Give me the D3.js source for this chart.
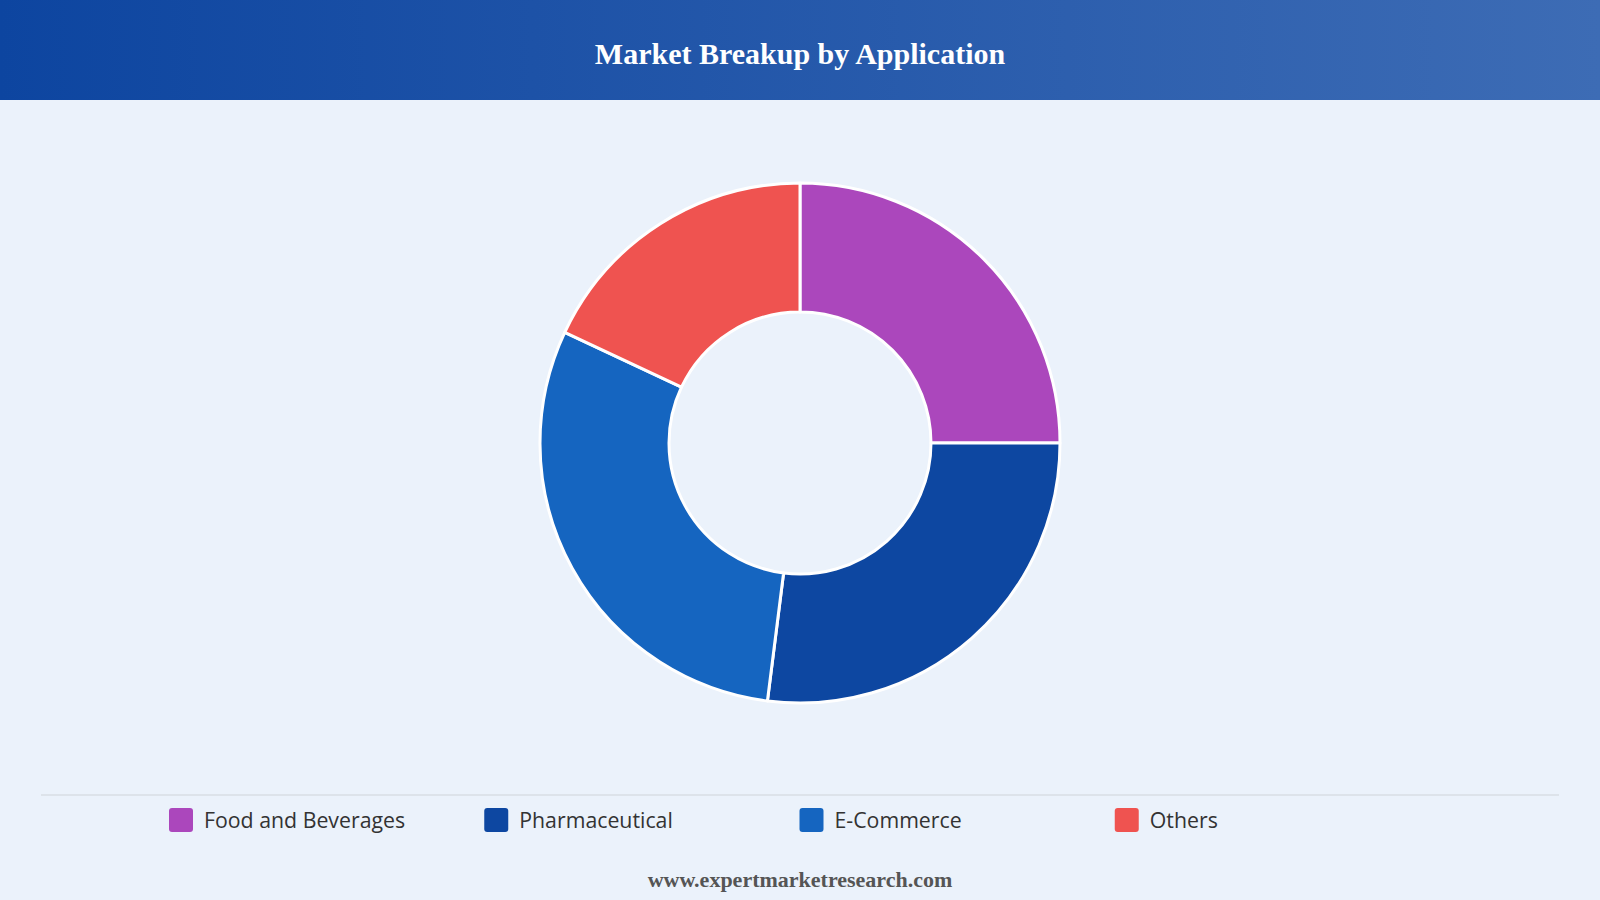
<!DOCTYPE html>
<html>
<head>
<meta charset="utf-8">
<script src="https://cdn.jsdelivr.net/npm/d3@7"></script>
<style>
  html, body { margin: 0; padding: 0; }
  body { width: 1600px; height: 900px; overflow: hidden; background: #EBF2FB; }
  svg { display: block; }
</style>
</head>
<body>
<svg id="chart" width="1600" height="900"></svg>
<script>
const title = "Market Breakup by Application";
const footer = "www.expertmarketresearch.com";
const categories = ["Food and Beverages", "Pharmaceutical", "E-Commerce", "Others"];
const values = [25, 27, 30, 18];
const colors = ["#AB47BC", "#0D47A1", "#1565C0", "#EF5350"];

const W = 1600, H = 900;
const svg = d3.select("#chart");

// background
svg.append("rect").attr("width", W).attr("height", H).attr("fill", "#EBF2FB");

// header gradient
const defs = svg.append("defs");
const grad = defs.append("linearGradient").attr("id", "hdr").attr("x1", "0%").attr("x2", "100%");
grad.append("stop").attr("offset", "0%").attr("stop-color", "#0D45A0");
grad.append("stop").attr("offset", "100%").attr("stop-color", "#3D6CB5");
svg.append("rect").attr("width", W).attr("height", 100).attr("fill", "url(#hdr)");
svg.append("text")
  .attr("x", W / 2).attr("y", 64)
  .attr("text-anchor", "middle")
  .attr("font-family", "'Liberation Serif', 'Times New Roman', serif")
  .attr("font-weight", "bold")
  .attr("font-size", 30)
  .attr("fill", "#ffffff")
  .text(title);

// donut
const cx = 800, cy = 443, rOuter = 260, rInner = 131;
const data = categories.map((c, i) => ({ name: c, value: values[i], color: colors[i] }));
const pie = d3.pie().value(d => d.value).sort(null);
const arc = d3.arc().innerRadius(rInner).outerRadius(rOuter);
const g = svg.append("g").attr("transform", `translate(${cx},${cy})`);
g.selectAll("path").data(pie(data)).join("path")
  .attr("d", arc)
  .attr("fill", d => d.data.color)
  .attr("stroke", "#ffffff")
  .attr("stroke-width", 3)
  .attr("stroke-linejoin", "round");

// separator line
svg.append("line")
  .attr("x1", 41).attr("x2", 1559).attr("y1", 795).attr("y2", 795)
  .attr("stroke", "#D9DEE4").attr("stroke-width", 1.5);

// legend
const legX = d3.scaleBand().domain(categories).range([169, 1430]).paddingInner(0).paddingOuter(0);
const leg = svg.append("g");
const items = leg.selectAll("g").data(data).join("g")
  .attr("transform", d => `translate(${legX(d.name)},808)`);
items.append("rect")
  .attr("width", 24).attr("height", 24).attr("rx", 3).attr("ry", 3)
  .attr("fill", d => d.color);
items.append("text")
  .attr("x", 35).attr("y", 13)
  .attr("dy", "0.35em")
  .attr("font-family", "'Open Sans', 'Noto Sans', sans-serif")
  .attr("font-size", 21.3)
  .attr("font-weight", 500)
  .attr("fill", "#333333")
  .text(d => d.name);

// footer
svg.append("text")
  .attr("x", W / 2).attr("y", 887)
  .attr("text-anchor", "middle")
  .attr("font-family", "'Liberation Serif', 'Times New Roman', serif")
  .attr("font-weight", "bold")
  .attr("font-size", 22)
  .attr("fill", "#555555")
  .text(footer);
</script>
</body>
</html>
